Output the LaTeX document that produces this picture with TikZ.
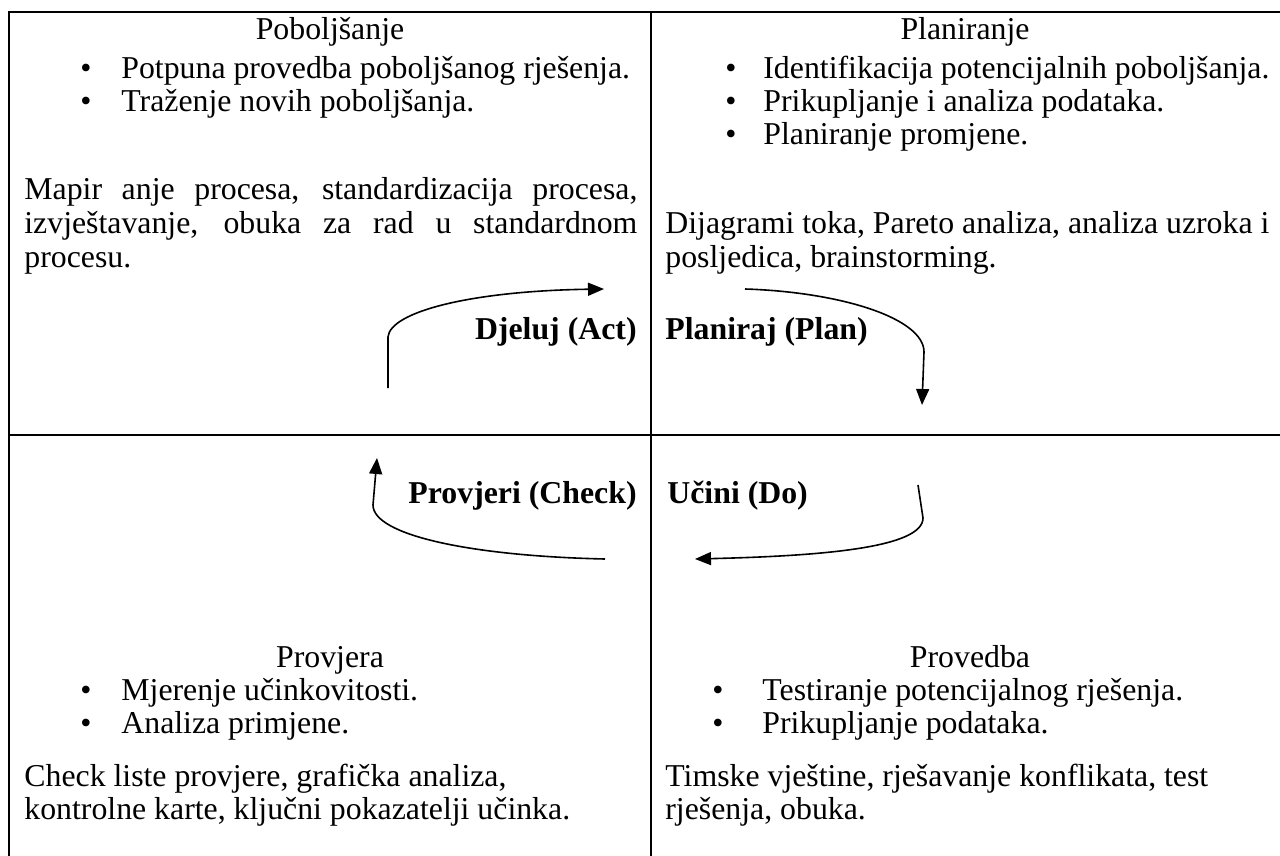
\documentclass[tikz,border=0pt]{standalone}
\usepackage{fontspec}
\setmainfont{Liberation Serif}
\usetikzlibrary{arrows.meta}

\begin{document}
\begin{tikzpicture}[x=0.5pt,y=0.5pt,yscale=-1,xscale=1,
	txt/.style={anchor=base west,inner sep=0pt,font=\fontsize{15.9}{16.5}\selectfont},
	ttl/.style={anchor=base,inner sep=0pt,font=\fontsize{15.9}{16.5}\selectfont},
	bld/.style={inner sep=0pt,font=\fontsize{15.9}{16.5}\selectfont\bfseries},
	cyc/.style={line width=0.8pt,-{Triangle[length=8pt,width=6.5pt]}}]
	\useasboundingbox (0,0) rectangle (1280,856);
	
	%Straight Lines (table)
	\draw [line width=1pt] (9,856) -- (9,12) -- (1280,12) ;
	\draw [line width=1pt] (651,12) -- (651,856) ;
	\draw [line width=1pt] (9,435) -- (1280,435) ;
	
	% Text Node (Poboljsanje)
	\node [ttl] (tlT) at (330,40) {Poboljšanje};
	\node [txt] (tlB1) at (80,79) {\textbullet};
	\node [txt] (tlI1) at (121,79) {Potpuna provedba poboljšanog rješenja.};
	\node [txt] (tlB2) at (80,112) {\textbullet};
	\node [txt] (tlI2) at (121,112) {Traženje novih poboljšanja.};
	\node [txt] (tlP1) at (24,199) {\makebox[306.5pt][s]{Mapir anje procesa, standardizacija procesa,}};
	\node [txt] (tlP2) at (24,233) {\makebox[306.5pt][s]{izvještavanje, obuka za rad u standardnom}};
	\node [txt] (tlP3) at (24,267) {procesu.};
	
	% Text Node (Planiranje)
	\node [ttl] (trT) at (965,40) {Planiranje};
	\node [txt] (trB1) at (725,79) {\textbullet};
	\node [txt] (trI1) at (763,79) {Identifikacija potencijalnih poboljšanja.};
	\node [txt] (trB2) at (725,112) {\textbullet};
	\node [txt] (trI2) at (763,112) {Prikupljanje i analiza podataka.};
	\node [txt] (trB3) at (725,145) {\textbullet};
	\node [txt] (trI3) at (763,145) {Planiranje promjene.};
	\node [txt] (trP1) at (665,234) {Dijagrami toka, Pareto analiza, analiza uzroka i};
	\node [txt] (trP2) at (665,267) {posljedica, brainstorming.};
	
	% Text Node (Provjera)
	\node [ttl] (blT) at (330,667) {Provjera};
	\node [txt] (blB1) at (80,700) {\textbullet};
	\node [txt] (blI1) at (121,700) {Mjerenje učinkovitosti.};
	\node [txt] (blB2) at (80,733) {\textbullet};
	\node [txt] (blI2) at (121,733) {Analiza primjene.};
	\node [txt] (blP1) at (24,786) {Check liste provjere, grafička analiza,};
	\node [txt] (blP2) at (24,819) {kontrolne karte, ključni pokazatelji učinka.};
	
	% Text Node (Provedba)
	\node [ttl] (brT) at (970,667) {Provedba};
	\node [txt] (brB1) at (712,700) {\textbullet};
	\node [txt] (brI1) at (762,700) {Testiranje potencijalnog rješenja.};
	\node [txt] (brB2) at (712,733) {\textbullet};
	\node [txt] (brI2) at (762,733) {Prikupljanje podataka.};
	\node [txt] (brP1) at (665,786) {Timske vještine, rješavanje konflikata, test};
	\node [txt] (brP2) at (665,819) {rješenja, obuka.};
	
	% Text Node (cycle labels)
	\node [bld,anchor=base east] (act) at (637,339) {Djeluj (Act)};
	\node [bld,anchor=base west] (plan) at (665,339) {Planiraj (Plan)};
	\node [bld,anchor=base east] (check) at (637,503) {Provjeri (Check)};
	\node [bld,anchor=base west] (do) at (667,503) {Učini (Do)};
	
	\coordinate (actS) at (388,388);
	\coordinate (actE) at (604,289);
	\coordinate (planS) at (745,289);
	\coordinate (planE) at (922,405);
	\coordinate (doS) at (918,485);
	\coordinate (doE) at (695,559);
	\coordinate (checkS) at (605,559);
	\coordinate (checkE) at (377,458);
	
	%Curve Lines
	\draw [cyc] (actS) -- (388,337) .. controls (390,312) and (470,291) .. (actE) ;
	\draw [cyc] (planS) .. controls (840,292) and (924,318) .. (924,352) -- (planE) ;
	\draw [cyc] (doS) -- (923,518) .. controls (923,548) and (820,556) .. (doE) ;
	\draw [cyc] (checkS) .. controls (470,556) and (373,535) .. (373,505) -- (checkE) ;
	
\end{tikzpicture}
\end{document}
